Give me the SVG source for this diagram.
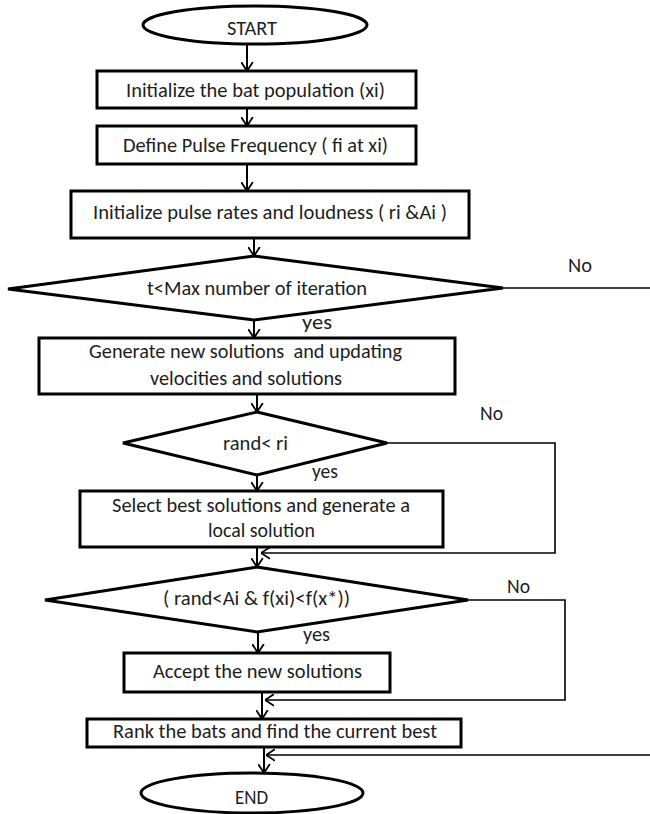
<svg xmlns="http://www.w3.org/2000/svg" width="650" height="814" viewBox="0 0 650 814">
<style>
.shape{fill:#fff;stroke:#000;stroke-width:3;stroke-linejoin:miter}
.conn{fill:none;stroke:#000;stroke-width:2}
.ret{fill:none;stroke:#000;stroke-width:1.6}
text{font-family:Carlito,Calibri,"Liberation Sans Narrow","Liberation Sans",Arial,sans-serif;font-size:20px;fill:#1e1e1e}
</style>
<defs>
<marker id="arr" viewBox="0 0 10 14" refX="10" refY="7" markerWidth="9" markerHeight="13" markerUnits="userSpaceOnUse" orient="auto">
<path d="M0,0.5 L10,7 L0,13.5" fill="none" stroke="#000" stroke-width="2"/>
</marker>
</defs>
<rect width="650" height="814" fill="#fff"/>

<g id="connectors">
<line class="conn" x1="247" y1="44" x2="247" y2="71" marker-end="url(#arr)"/>
<line class="conn" x1="247" y1="108" x2="247" y2="126" marker-end="url(#arr)"/>
<line class="conn" x1="247" y1="164" x2="247" y2="191" marker-end="url(#arr)"/>
<line class="conn" x1="254" y1="238" x2="254" y2="256" marker-end="url(#arr)"/>
<line class="conn" x1="254" y1="320" x2="254" y2="338" marker-end="url(#arr)"/>
<line class="conn" x1="257" y1="394" x2="257" y2="412" marker-end="url(#arr)"/>
<line class="conn" x1="257" y1="475" x2="257" y2="491" marker-end="url(#arr)"/>
<line class="conn" x1="257" y1="547" x2="257" y2="567" marker-end="url(#arr)"/>
<line class="conn" x1="258" y1="632" x2="258" y2="653" marker-end="url(#arr)"/>
<line class="conn" x1="262" y1="692" x2="262" y2="719" marker-end="url(#arr)"/>
<line class="conn" x1="264" y1="747" x2="264" y2="773" marker-end="url(#arr)"/>
<path class="ret" d="M503,288 H650"/>
<path class="ret" d="M650,755 H266" marker-end="url(#arr)"/>
<path class="ret" d="M387,443 H555 V553 H261" marker-end="url(#arr)"/>
<path class="ret" d="M468,600 H565 V700 H265" marker-end="url(#arr)"/>
</g>

<g id="start">
<ellipse class="shape" cx="255" cy="25" rx="112" ry="19"/>
<text x="227" y="35" textLength="50" lengthAdjust="spacingAndGlyphs">START</text>
</g>

<g id="init-pop">
<rect class="shape" x="97" y="71" width="319" height="37"/>
<text x="126" y="97" textLength="259" lengthAdjust="spacingAndGlyphs">Initialize the bat population (xi)</text>
</g>

<g id="pulse-freq">
<rect class="shape" x="97" y="126" width="319" height="38"/>
<text x="123" y="152" textLength="265" lengthAdjust="spacingAndGlyphs">Define Pulse Frequency ( fi at xi)</text>
</g>

<g id="init-rates">
<rect class="shape" x="71" y="191" width="398" height="47"/>
<text x="93" y="219" textLength="354" lengthAdjust="spacingAndGlyphs">Initialize pulse rates and loudness ( ri &amp;Ai )</text>
</g>

<g id="dec-iter">
<polygon class="shape" points="254,256 503,288 254,320 8,289"/>
<text x="147" y="295" textLength="220" lengthAdjust="spacingAndGlyphs">t&lt;Max number of iteration</text>
<text x="568" y="272" textLength="24" lengthAdjust="spacingAndGlyphs">No</text>
<text x="302" y="329" textLength="30" lengthAdjust="spacingAndGlyphs">yes</text>
</g>

<g id="generate">
<rect class="shape" x="39" y="338" width="416" height="56"/>
<text x="89" y="358" textLength="313" lengthAdjust="spacingAndGlyphs" xml:space="preserve">Generate new solutions  and updating</text>
<text x="150" y="385" textLength="192" lengthAdjust="spacingAndGlyphs">velocities and solutions</text>
</g>

<g id="dec-rand">
<polygon class="shape" points="257,412 387,443 257,475 123,443"/>
<text x="223" y="450" textLength="65" lengthAdjust="spacingAndGlyphs">rand&lt; ri</text>
<text x="480" y="420" textLength="23" lengthAdjust="spacingAndGlyphs">No</text>
<text x="312" y="478" textLength="26" lengthAdjust="spacingAndGlyphs">yes</text>
</g>

<g id="select-best">
<rect class="shape" x="80" y="491" width="363" height="56"/>
<text x="112" y="512" textLength="298" lengthAdjust="spacingAndGlyphs">Select best solutions and generate a</text>
<text x="208" y="537" textLength="107" lengthAdjust="spacingAndGlyphs">local solution</text>
</g>

<g id="dec-accept">
<polygon class="shape" points="257,567 468,600 257,632 45,600"/>
<text x="163" y="605" textLength="187" lengthAdjust="spacingAndGlyphs">( rand&lt;Ai &amp; f(xi)&lt;f(x*))</text>
<text x="507" y="593" textLength="23" lengthAdjust="spacingAndGlyphs">No</text>
<text x="303" y="641" textLength="27" lengthAdjust="spacingAndGlyphs">yes</text>
</g>

<g id="accept">
<rect class="shape" x="124" y="653" width="266" height="39"/>
<text x="153" y="678" textLength="209" lengthAdjust="spacingAndGlyphs">Accept the new solutions</text>
</g>

<g id="rank">
<rect class="shape" x="87" y="719" width="374" height="28"/>
<text x="113" y="738" textLength="324" lengthAdjust="spacingAndGlyphs">Rank the bats and find the current best</text>
</g>

<g id="end">
<ellipse class="shape" cx="252" cy="793" rx="111" ry="20"/>
<text x="235" y="804" textLength="33" lengthAdjust="spacingAndGlyphs">END</text>
</g>
</svg>
